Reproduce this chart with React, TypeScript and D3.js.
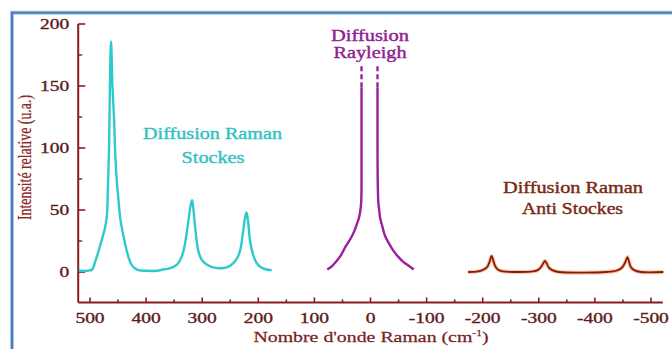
import React from "react";
import * as d3 from "d3";

const W = 672;
const H = 349;

// [nombre d'onde (cm-1), intensité relative]
const stokes: [number, number][] = [
  [520, 1], [505, 1], [496, 2], [491, 8], [486, 15], [479, 26], [474, 34],
  [470, 45], [468, 70], [466, 100], [464.5, 150], [462.5, 186], [460, 150],
  [457, 122], [455, 95], [452, 72], [450, 62], [446, 43], [443, 35],
  [439, 26], [435, 18], [430, 10], [426, 6], [420, 3], [414, 1.5], [400, 1],
  [380, 1], [370, 2], [358, 3], [345, 6], [336, 13], [331, 22], [325, 40],
  [320.5, 54], [318, 58], [315.5, 50], [313, 38], [310, 26], [307, 17],
  [301, 10], [292, 6], [282, 4], [268, 3], [255, 4], [245, 7], [238, 11],
  [232, 18], [227, 33], [223.5, 44], [221, 48], [218, 40], [215, 26],
  [210, 15], [204, 8], [196, 4], [186, 2], [176, 1.5],
];

const rayleighLeft: [number, number][] = [
  [77, 2], [68, 5], [60, 9], [52, 14], [45, 20], [38, 25], [33, 29],
  [28, 34], [24, 39], [21, 43], [19, 47], [17.5, 52], [16.5, 57], [16, 70],
  [16, 100], [16, 149],
];
const rayleighRight: [number, number][] = [
  [-12.5, 149], [-12.5, 100], [-13, 70], [-14, 56], [-15.5, 50], [-17, 44],
  [-21, 37], [-26, 29], [-33, 23], [-41, 17], [-50, 12], [-59, 8], [-68, 5],
  [-77, 2],
];
const rayleighDashLeft: [number, number][] = [[16, 149], [16, 168]];
const rayleighDashRight: [number, number][] = [[-12.5, 149], [-12.5, 168]];

const antiStokes: [number, number][] = [
  [-174, 0], [-192, 0.5], [-202, 2], [-208, 4], [-212, 8], [-216, 13],
  [-219, 9], [-222, 5], [-227, 2], [-236, 0.5], [-260, 0], [-290, 0.5],
  [-298, 1.5], [-304, 4], [-308, 7], [-311, 9], [-314, 7], [-318, 3.5],
  [-324, 1.5], [-336, 0], [-380, -0.5], [-420, 0], [-438, 1], [-447, 3],
  [-452, 6], [-456, 10], [-458, 12], [-461, 8], [-464, 4], [-470, 1.5],
  [-482, 0], [-522, 0],
];

const xTicks = [500, 400, 300, 200, 100, 0, -100, -200, -300, -400, -500];
const xMinor = [450, 350, 250, 150, 50, -50, -150, -250, -350, -450];
const yTicks = [0, 50, 100, 150, 200];
const yMinor = [25, 75, 125, 175];

const axisColor = "#8b1c1c";
const tickColor = "#5e1a1a";
const font = "Liberation Serif";

export default function App() {
  const x = d3.scaleLinear().domain([500, -500]).range([90, 651]);
  const y = d3.scaleLinear().domain([0, 200]).range([272, 24]);

  const line = d3
    .line<[number, number]>()
    .x((d) => x(d[0]))
    .y((d) => y(d[1]))
    .curve(d3.curveCatmullRom.alpha(0.5));

  const x0 = x(521);
  const x1 = x(-521);
  const yBottom = y(-24.5);

  const serif = { fontFamily: font };

  return (
    <svg
      width={W}
      height={H}
      style={{ position: "absolute", left: 0, top: 0, background: "#fff" }}
    >
      <rect x={0} y={0} width={W} height={H} fill="#fff" />
      {/* cadre bleu */}
      <rect x={12} y={12.7} width={680} height={360} fill="none" stroke="#a9c4e6" strokeWidth={4} />
      <rect x={12} y={12.7} width={680} height={360} fill="none" stroke="#4a7ebb" strokeWidth={2} />

      {/* axes */}
      <line x1={x0} x2={x1} y1={yBottom} y2={yBottom} stroke={axisColor} strokeWidth={2} />
      <line x1={x0} x2={x0} y1={y(200)} y2={yBottom} stroke={axisColor} strokeWidth={2} />
      {xTicks.map((t) => (
        <line key={"xt" + t} x1={x(t)} x2={x(t)} y1={yBottom} y2={yBottom - 5} stroke={axisColor} strokeWidth={1.6} />
      ))}
      {xMinor.map((t) => (
        <line key={"xm" + t} x1={x(t)} x2={x(t)} y1={yBottom} y2={yBottom - 3} stroke={axisColor} strokeWidth={1.6} />
      ))}
      {yTicks.map((t) => (
        <line key={"yt" + t} x1={x0} x2={x0 + 7} y1={y(t)} y2={y(t)} stroke={axisColor} strokeWidth={1.6} />
      ))}
      {yMinor.map((t) => (
        <line key={"ym" + t} x1={x0} x2={x0 + 4} y1={y(t)} y2={y(t)} stroke={axisColor} strokeWidth={1.4} />
      ))}
      {xTicks.map((t) => (
        <text
          key={"xl" + t}
          transform={`translate(${x(t)},${yBottom + 21}) scale(1.3,1)`}
          textAnchor="middle"
          style={serif}
          fontSize={15}
          fill={tickColor}
          stroke={tickColor}
          strokeWidth={0.35}
        >
          {t}
        </text>
      ))}
      {yTicks.map((t) => (
        <text
          key={"yl" + t}
          transform={`translate(${x0 - 9},${y(t) + 5}) scale(1.3,1)`}
          textAnchor="end"
          style={serif}
          fontSize={15}
          fill={tickColor}
          stroke={tickColor}
          strokeWidth={0.35}
        >
          {t}
        </text>
      ))}

      {/* titres des axes */}
      <text
        transform={`translate(371,342) scale(1.28,1)`}
        textAnchor="middle"
        style={serif}
        fontSize={15.5}
        fill="#7a1f1f"
        stroke="#7a1f1f"
        strokeWidth={0.25}
      >
        Nombre d'onde Raman (cm
        <tspan fontSize={9} dy={-6}>-1</tspan>
        <tspan dy={6}>)</tspan>
      </text>
      <text
        transform={`translate(31,157.5) rotate(-90) scale(1,1.2)`}
        textAnchor="middle"
        style={serif}
        fontSize={15}
        textLength={125}
        lengthAdjust="spacingAndGlyphs"
        fill="#8b2525"
        stroke="#8b2525"
        strokeWidth={0.2}
      >
        Intensité relative (u.a.)
      </text>

      {/* courbes */}
      <path d={line(stokes) ?? ""} fill="none" stroke="#2dcaca" strokeWidth={2.4} strokeLinejoin="round" />
      <path d={line(rayleighLeft) ?? ""} fill="none" stroke="#9b1f9e" strokeWidth={2.4} />
      <path d={line(rayleighRight) ?? ""} fill="none" stroke="#9b1f9e" strokeWidth={2.4} />
      <path d={line(rayleighDashLeft) ?? ""} fill="none" stroke="#9b1f9e" strokeWidth={2.4} strokeDasharray="5,3" />
      <path d={line(rayleighDashRight) ?? ""} fill="none" stroke="#9b1f9e" strokeWidth={2.4} strokeDasharray="5,3" />
      <path d={line(antiStokes) ?? ""} fill="none" stroke="#f2a46a" strokeWidth={4} opacity={0.6} />
      <path d={line(antiStokes) ?? ""} fill="none" stroke="#8b1a08" strokeWidth={1.8} />

      {/* annotations */}
      <g style={serif} fontSize={16} textAnchor="middle" strokeWidth={0.4}>
        <text x={212.5} y={139} fill="#33c2c2" stroke="#33c2c2" textLength={139} lengthAdjust="spacingAndGlyphs">
          Diffusion Raman
        </text>
        <text x={213} y={163} fill="#33c2c2" stroke="#33c2c2" textLength={63} lengthAdjust="spacingAndGlyphs">
          Stockes
        </text>
        <text x={370} y={40.5} fill="#8f2292" stroke="#8f2292" textLength={78} lengthAdjust="spacingAndGlyphs">
          Diffusion
        </text>
        <text x={370} y={57.5} fill="#8f2292" stroke="#8f2292" textLength={73} lengthAdjust="spacingAndGlyphs">
          Rayleigh
        </text>
        <text x={573} y={192.5} fill="#7a2a12" stroke="#7a2a12" textLength={140} lengthAdjust="spacingAndGlyphs">
          Diffusion Raman
        </text>
        <text x={572.5} y={214} fill="#7a2a12" stroke="#7a2a12" textLength={101} lengthAdjust="spacingAndGlyphs">
          Anti Stockes
        </text>
      </g>
    </svg>
  );
}
